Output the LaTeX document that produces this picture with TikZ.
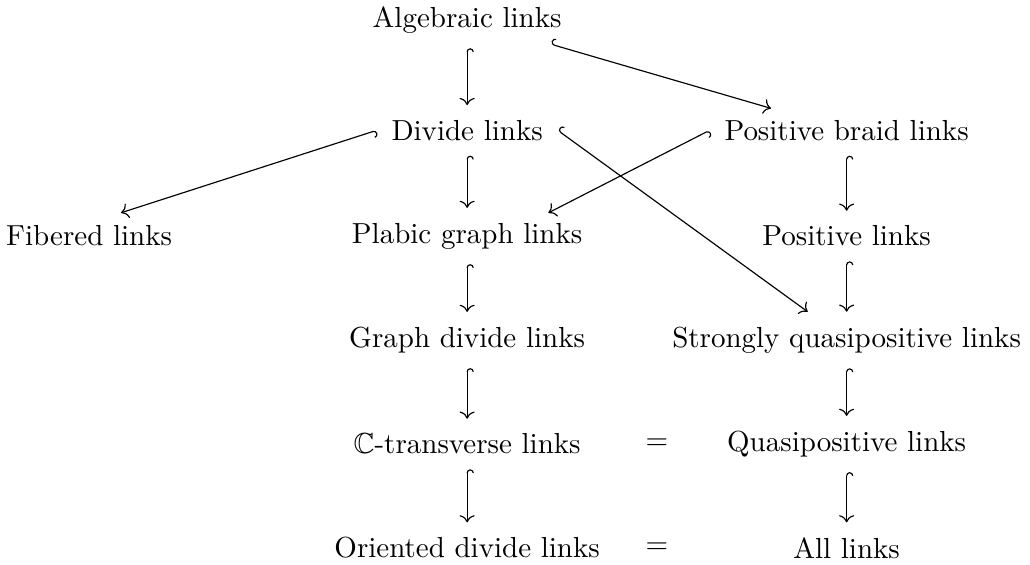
\documentclass[tikz,border=0pt]{standalone}
\usepackage{amsmath,amssymb}
\usetikzlibrary{arrows.meta}

\begin{document}
\begin{tikzpicture}[
    cls/.style={inner sep=5pt},
    incl/.style={{Hooks[right]}-{Computer Modern Rightarrow}}
  ]
    \useasboundingbox (0,0) rectangle (12.48,-6.84);
    % left column
    \node[cls] (fib) at (1.08,-2.86) {Fibered links};
    % middle column
    \node[cls] (alg) at (5.66,-0.24) {Algebraic links};
    \node[cls] (div) at (5.66,-1.58) {Divide links};
    \node[cls] (plab) at (5.66,-2.86) {Plabic graph links};
    \node[cls] (gdiv) at (5.66,-4.12) {Graph divide links};
    \node[cls] (ctr) at (5.66,-5.38) {$\mathbb{C}$-transverse links};
    \node[cls] (odiv) at (5.66,-6.64) {Oriented divide links};
    % right column
    \node[cls] (pbr) at (10.258,-1.58) {Positive braid links};
    \node[cls] (pos) at (10.258,-2.86) {Positive links};
    \node[cls] (sqp) at (10.258,-4.12) {Strongly quasipositive links};
    \node[cls] (qp) at (10.258,-5.38) {Quasipositive links};
    \node[cls] (all) at (10.258,-6.64) {All links};
    % equalities
    \node (eq1) at (7.96,-5.38) {$=$};
    \node (eq2) at (7.96,-6.64) {$=$};

    \draw[incl, shorten <=-5pt, shorten >=-4pt] (alg) -- (pbr);
    \draw[incl] (alg) -- (div);
    \draw[incl] (div.west) -- ([xshift=11pt,yshift=-0.7pt]fib.north);
    \draw[incl] (div) -- (plab);
    \draw[incl] (div.east) -- (sqp);
    \draw[incl] (pbr.west) -- ([xshift=28pt,yshift=-1.7pt]plab.north);
    \draw[incl] (pbr) -- (pos);
    \draw[incl] (plab) -- (gdiv);
    \draw[incl] (pos) -- (sqp);
    \draw[incl] (gdiv) -- (ctr);
    \draw[incl] (sqp) -- (qp);
    \draw[incl] (ctr) -- (odiv);
    \draw[incl] (qp) -- (all);
  \end{tikzpicture}
\end{document}
